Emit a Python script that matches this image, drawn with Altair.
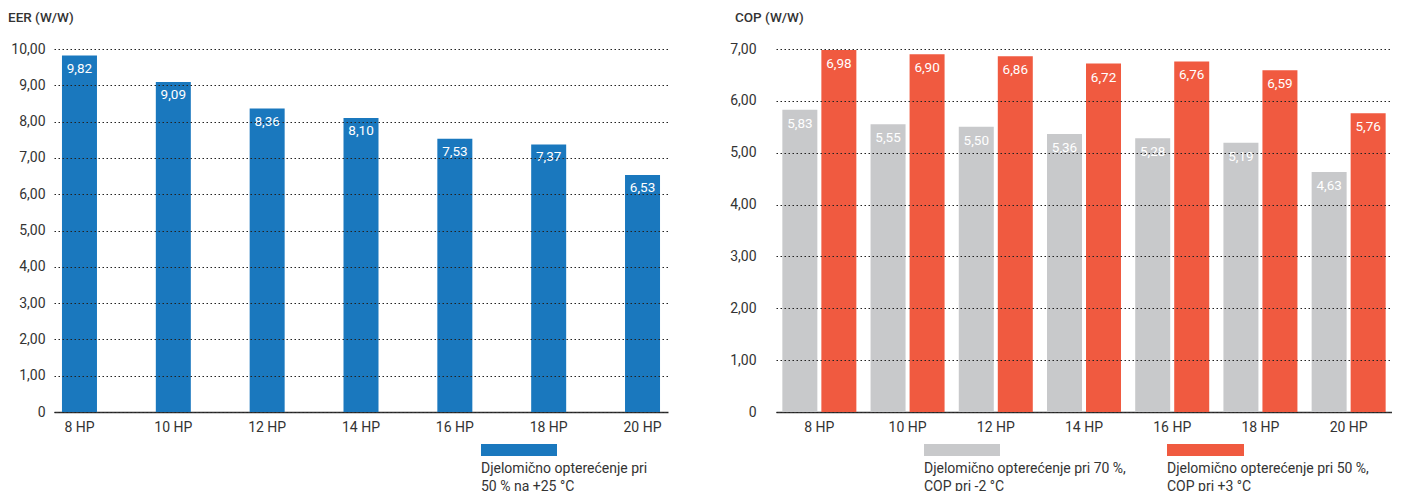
import altair as alt
import pandas as pd

models = ["8 HP", "10 HP", "12 HP", "14 HP", "16 HP", "18 HP", "20 HP"]
eer = [9.82, 9.09, 8.36, 8.10, 7.53, 7.37, 6.53]
cop_70 = [5.83, 5.55, 5.50, 5.36, 5.28, 5.19, 4.63]
cop_50 = [6.98, 6.90, 6.86, 6.72, 6.76, 6.59, 5.76]

eer_title = "EER (W/W)"
cop_title = "COP (W/W)"
eer_legend = "Djelomično opterećenje pri\n50 % na +25 °C"
cop_legend_70 = "Djelomično opterećenje pri 70 %,\nCOP pri -2 °C"
cop_legend_50 = "Djelomično opterećenje pri 50 %,\nCOP pri +3 °C"

series = ["70", "50"]
BLUE = "#1a78be"
GRAY = "#c8c9cb"
RED = "#f05a40"
FONT = "Roboto"
TXT = "#333333"
WEIGHT = 500

left_df = pd.DataFrame({"model": models, "v": eer})
right_df = pd.DataFrame({
    "model": models * 2,
    "series": [series[0]] * 7 + [series[1]] * 7,
    "v": cop_70 + cop_50,
})

fmt = "replace(format(datum.v, '.2f'), '.', ',')"
ylab = "datum.value == 0 ? '0' : replace(format(datum.value, '.2f'), '.', ',')"

W1, W2, H = 614, 616, 363


def xaxis():
    return alt.Axis(title=None, labelAngle=0, ticks=False, domain=True,
                    domainColor=TXT, domainWidth=1.5, labelPadding=8,
                    labelFont=FONT, labelFontSize=14, labelFontWeight=400,
                    labelColor=TXT, grid=False)


def yaxis(vals, pad):
    return alt.Axis(title=None, values=vals, tickCount=len(vals), labelExpr=ylab,
                    ticks=False, labelOverlap=False,
                    domain=False, labelPadding=pad, labelFont=FONT,
                    labelFontSize=14, labelFontWeight=400, labelColor=TXT,
                    grid=True, gridColor="#222222", gridDash=[1.5, 2.5],
                    gridWidth=1.2, zindex=1)


def one(d):
    return alt.Data(values=[d])


# ---------- left panel ----------
lx = alt.X("model:N", sort=models, axis=xaxis(),
           scale=alt.Scale(paddingInner=0.627, paddingOuter=0.085))
ly = alt.Y("v:Q", axis=yaxis(list(range(11)), 9),
           scale=alt.Scale(domain=[0, 10], nice=False))

lbars = alt.Chart(left_df).mark_bar(color=BLUE).encode(x=lx, y=ly)
ltext = alt.Chart(left_df).transform_calculate(lab=fmt).mark_text(
    color="white", font=FONT, fontSize=13.5, fontWeight=400, baseline="middle", dy=13
).encode(x=alt.X("model:N", sort=models), y="v:Q", text="lab:N")

ltitle = alt.Chart(one({"t": eer_title})).mark_text(
    align="left", baseline="middle", font=FONT, fontSize=13.5, fontWeight=WEIGHT, color=TXT
).encode(x=alt.value(-46), y=alt.value(-31), text="t:N")

lleg_rect = alt.Chart(one({"k": 1})).mark_rect(color=BLUE).encode(
    x=alt.value(427), x2=alt.value(503), y=alt.value(395), y2=alt.value(407))
lleg_text = alt.Chart(one({"t": eer_legend})).mark_text(
    align="left", baseline="middle", font=FONT, fontSize=14, fontWeight=400,
    color=TXT, lineBreak="\n", lineHeight=18
).encode(x=alt.value(427), y=alt.value(420), text="t:N")

left = alt.layer(lbars, ltext, ltitle, lleg_rect, lleg_text).properties(width=W1, height=H)

# ---------- right panel ----------
rx = alt.X("model:N", sort=models, axis=xaxis(),
           scale=alt.Scale(paddingInner=0.161, paddingOuter=0.072))
rxo = alt.XOffset("series:N", scale=alt.Scale(domain=series, paddingInner=0.103, paddingOuter=0))
ry = alt.Y("v:Q", axis=yaxis(list(range(8)), 20),
           scale=alt.Scale(domain=[0, 7], nice=False))
rcolor = alt.Color("series:N", scale=alt.Scale(domain=series, range=[GRAY, RED]), legend=None)

rbars = alt.Chart(right_df).mark_bar().encode(x=rx, xOffset=rxo, y=ry, color=rcolor)
rtext = alt.Chart(right_df).transform_calculate(lab=fmt).mark_text(
    color="white", font=FONT, fontSize=13.5, fontWeight=400, baseline="middle", dy=14
).encode(x=alt.X("model:N", sort=models), xOffset=alt.XOffset("series:N", sort=series),
         y="v:Q", text="lab:N")

rtitle = alt.Chart(one({"t": cop_title})).mark_text(
    align="left", baseline="middle", font=FONT, fontSize=13.5, fontWeight=WEIGHT, color=TXT
).encode(x=alt.value(-41), y=alt.value(-31), text="t:N")

rleg_rect1 = alt.Chart(one({"k": 1})).mark_rect(color=GRAY).encode(
    x=alt.value(148), x2=alt.value(224), y=alt.value(395), y2=alt.value(407))
rleg_rect2 = alt.Chart(one({"k": 2})).mark_rect(color=RED).encode(
    x=alt.value(391), x2=alt.value(468), y=alt.value(395), y2=alt.value(407))
rleg_text1 = alt.Chart(one({"t": cop_legend_70})).mark_text(
    align="left", baseline="middle", font=FONT, fontSize=14, fontWeight=400,
    color=TXT, lineBreak="\n", lineHeight=18
).encode(x=alt.value(148), y=alt.value(420), text="t:N")
rleg_text2 = alt.Chart(one({"t": cop_legend_50})).mark_text(
    align="left", baseline="middle", font=FONT, fontSize=14, fontWeight=400,
    color=TXT, lineBreak="\n", lineHeight=18
).encode(x=alt.value(391), y=alt.value(420), text="t:N")

right = alt.layer(rbars, rtext, rtitle, rleg_rect1, rleg_rect2, rleg_text1, rleg_text2).properties(
    width=W2, height=H)

chart = alt.hconcat(left, right).properties(
    spacing=108, bounds="flush",
    padding={"left": 0, "top": 3, "right": 0, "bottom": 0},
).configure_view(stroke=None)

chart.save("out.html", embed_options={"renderer": "svg", "actions": False})
